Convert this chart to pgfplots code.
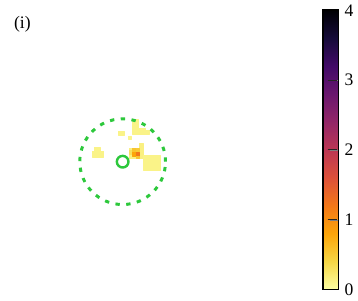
\documentclass[border=0pt]{standalone}
\usepackage{fontspec}
\setmainfont{Liberation Serif}
\usepackage{pgfplots}
\pgfplotsset{compat=1.18}
\definecolor{cgreen}{RGB}{45,200,60}
\pgfplotsset{colormap={infernor}{
 rgb255=(252,255,164) rgb255=(246,215,70) rgb255=(252,165,10) rgb255=(243,120,25)
 rgb255=(221,81,58) rgb255=(188,55,84) rgb255=(147,38,103) rgb255=(106,23,110)
 rgb255=(66,10,104) rgb255=(22,11,57) rgb255=(0,0,4)}}
\begin{document}
\begin{tikzpicture}
\begin{axis}[
  scale only axis, width=257.76pt, height=216pt,
  xmin=0, xmax=358, ymin=0, ymax=300, y dir=reverse,
  axis line style={draw=none}, xtick=\empty, ytick=\empty,
  colormap name=infernor, point meta min=0, point meta max=4,
  colorbar,
  colorbar style={
    at={(parent axis.north west)}, anchor=north west,
    xshift=230.4pt, yshift=-4.3pt,
    scale only axis, width=11.5pt, height=206.6pt,
    y dir=normal, axis on top=true,
    ytick={0,1,2,3,4}, yticklabel pos=right, ytick pos=right,
    tick align=inside, major tick length=6.5pt,
    axis line style={draw=black, line width=1.2pt},
    yticklabel style={font=\fontsize{13}{15}\selectfont, xshift=1pt},
    /pgf/number format/assume math mode=true,
    extra description/.code={
      \draw[black!85, line width=0.7pt] (rel axis cs:0.3,0.25) -- (rel axis cs:0.92,0.25);
      \draw[black!85, line width=0.7pt] (rel axis cs:0.3,0.5) -- (rel axis cs:0.92,0.5);
      \draw[black!85, line width=0.7pt] (rel axis cs:0.3,0.75) -- (rel axis cs:0.92,0.75);
    },
  },
]
\addplot[patch, patch type=rectangle, shader=flat corner, point meta=explicit]
table[meta=c] {
x y c
135.5 118 0.12
142 118 0.12
142 127.5 0.12
135.5 127.5 0.12
135.5 127 0.12
149 127 0.12
149 133.5 0.12
135.5 133.5 0.12
149 129.5 0.12
153 129.5 0.12
153 133.5 0.12
149 133.5 0.12
121 130.5 0.12
128 130.5 0.12
128 134 0.12
121 134 0.12
132 135 0.1
134.5 135 0.1
134.5 138 0.1
132 138 0.1
97 146.5 0.12
103 146.5 0.12
103 151 0.12
97 151 0.12
94.5 151 0.12
106.5 151 0.12
106.5 157 0.12
94.5 157 0.12
143 143 0.15
147.5 143 0.15
147.5 150 0.15
143 150 0.15
132.5 147.5 0.15
147.5 147.5 0.15
147.5 158.5 0.15
132.5 158.5 0.15
147.5 155 0.12
164.5 155 0.12
164.5 170 0.12
147.5 170 0.12
133 150 0.3
135.5 150 0.3
135.5 154 0.3
133 154 0.3
135.5 147.5 0.55
139.5 147.5 0.55
139.5 151.5 0.55
135.5 151.5 0.55
139.5 147.5 0.5
143 147.5 0.5
143 151.5 0.5
139.5 151.5 0.5
135.5 151.5 0.8
139.5 151.5 0.8
139.5 155.5 0.8
135.5 155.5 0.8
139.5 151.5 1.2
143 151.5 1.2
143 155.5 1.2
139.5 155.5 1.2
139.5 155.5 0.55
143 155.5 0.55
143 158 0.55
139.5 158 0.55
};
\addplot[only marks, mark=o, cgreen, mark size=31.7pt,
  mark options={line width=2.2pt, line cap=butt, dash pattern=on 3.2pt off 4.8pt}]
  coordinates {(126,161.5)};
\addplot[only marks, mark=o, cgreen, mark size=4.3pt,
  mark options={line width=1.8pt, solid}]
  coordinates {(126,161.5)};
\node[font=\fontsize{13}{15}\selectfont] at (axis cs:23,20.5) {(i)};
\end{axis}
\end{tikzpicture}
\end{document}
